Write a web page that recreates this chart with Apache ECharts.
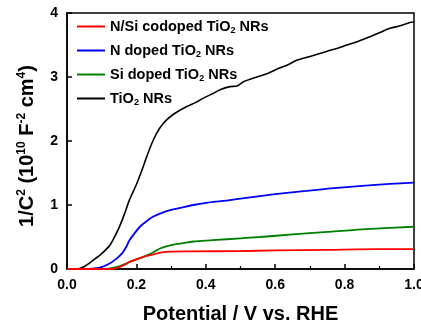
<!DOCTYPE html>
<html>
<head>
<meta charset="utf-8">
<script src="https://cdn.jsdelivr.net/npm/echarts@6/dist/echarts.min.js"></script>
<style>
  html, body { margin: 0; padding: 0; background: #fff; }
  #chart { width: 421px; height: 327px; }
</style>
</head>
<body>
<div id="chart"></div>
<script>
// series names and values (x: V vs. RHE, y: 1e10 F^-2 cm^4)
const seriesNames = ['N/Si codoped TiO2 NRs', 'N doped TiO2 NRs', 'Si doped TiO2 NRs', 'TiO2 NRs'];
const seriesColors = ['#ff0000', '#0000ff', '#008000', '#000000'];

const codopedData = [
  [0, 0], [0.12, 0], [0.14, 0.01], [0.16, 0.05], [0.18, 0.11], [0.20, 0.15], [0.22, 0.19],
  [0.249, 0.23], [0.27, 0.255], [0.297, 0.27], [0.35, 0.275], [0.5, 0.28], [0.6, 0.29],
  [0.75, 0.30], [0.9, 0.31], [1.0, 0.31]
];
const nDopedData = [
  [0, 0], [0.05, 0], [0.08, 0.01], [0.10, 0.03], [0.124, 0.09], [0.14, 0.15], [0.158, 0.24],
  [0.17, 0.34], [0.18, 0.45], [0.195, 0.56], [0.21, 0.66], [0.23, 0.75], [0.249, 0.82],
  [0.27, 0.87], [0.297, 0.92], [0.33, 0.96], [0.364, 1.0], [0.41, 1.04], [0.46, 1.07],
  [0.5, 1.10], [0.556, 1.14], [0.62, 1.18], [0.69, 1.22], [0.76, 1.26], [0.85, 1.30],
  [0.93, 1.33], [1.0, 1.35]
];
const siDopedData = [
  [0, 0], [0.1, 0], [0.124, 0.01], [0.15, 0.04], [0.172, 0.09], [0.195, 0.14], [0.22, 0.19],
  [0.245, 0.25], [0.268, 0.32], [0.297, 0.37], [0.33, 0.40], [0.364, 0.43], [0.42, 0.45],
  [0.5, 0.48], [0.556, 0.50], [0.65, 0.54], [0.75, 0.58], [0.85, 0.62], [1.0, 0.66]
];
const tio2Data = [
  [0, 0], [0.03, 0], [0.05, 0.04], [0.076, 0.14], [0.10, 0.24], [0.124, 0.375], [0.147, 0.61],
  [0.165, 0.85], [0.18, 1.08], [0.20, 1.32], [0.215, 1.53], [0.23, 1.76], [0.249, 2.02],
  [0.267, 2.2], [0.287, 2.33], [0.31, 2.43], [0.345, 2.54], [0.37, 2.6], [0.393, 2.67],
  [0.42, 2.74], [0.441, 2.80], [0.47, 2.85], [0.49, 2.86], [0.51, 2.93], [0.547, 3.0],
  [0.58, 3.06], [0.604, 3.12], [0.64, 3.2], [0.662, 3.26], [0.70, 3.32], [0.748, 3.40],
  [0.78, 3.45], [0.806, 3.50], [0.84, 3.56], [0.873, 3.63], [0.90, 3.69], [0.931, 3.76],
  [0.96, 3.80], [0.988, 3.85], [1.0, 3.86]
];
const allData = [codopedData, nDopedData, siDopedData, tio2Data];

const FONT = '"Liberation Sans", Arial, sans-serif';
const chart = echarts.init(document.getElementById('chart'));

const series = seriesNames.map((name, i) => ({
  name,
  type: 'line',
  data: allData[i],
  showSymbol: false,
  symbol: 'none',
  smooth: 0.3,
  lineStyle: { color: seriesColors[i], width: i === 3 ? 1.6 : 1.8 },
  itemStyle: { color: seriesColors[i] },
  z: i === 0 ? 5 : 3
}));

chart.setOption({
  animation: false,
  backgroundColor: '#fff',
  grid: {
    left: 67, right: 7, top: 13, bottom: 58,
    outerBoundsMode: 'none',
    show: true, borderColor: '#000', borderWidth: 1.5, backgroundColor: 'transparent'
  },
  legend: {
    orient: 'vertical',
    left: 72, top: 13,
    icon: 'rect',
    itemWidth: 28, itemHeight: 2,
    itemGap: 7,
    data: seriesNames,
    formatter: name => name.replace('TiO2', 'TiO{sub|2}'),
    textStyle: {
      fontFamily: FONT, fontSize: 14.5, fontWeight: 'bold', color: '#000', lineHeight: 17,
      rich: {
        sub: { fontFamily: FONT, fontSize: 9, fontWeight: 'bold', color: '#000', verticalAlign: 'bottom', lineHeight: 17 }
      }
    }
  },
  xAxis: {
    type: 'value',
    min: 0, max: 1, interval: 0.2,
    name: 'Potential / V vs. RHE',
    nameLocation: 'middle', nameGap: 35,
    nameTextStyle: { fontFamily: FONT, fontSize: 20, fontWeight: 'bold', color: '#000' },
    axisLine: { lineStyle: { color: '#000', width: 1.5 } },
    axisTick: { inside: true, length: 5, lineStyle: { color: '#000', width: 1.5 } },
    minorTick: { show: true, splitNumber: 2, length: 3, lineStyle: { color: '#000', width: 1.2 } },
    axisLabel: {
      fontFamily: FONT, fontSize: 14, fontWeight: 'bold', color: '#000', margin: 9,
      formatter: v => v.toFixed(1)
    },
    splitLine: { show: false }
  },
  yAxis: {
    type: 'value',
    min: 0, max: 4, interval: 1,
    name: '1/C{sup|2} (10{sup|10} F{sup|-2} cm{sup|4})',
    nameLocation: 'middle', nameGap: 26, nameRotate: 90,
    nameTextStyle: {
      fontFamily: FONT, fontSize: 20, fontWeight: 'bold', color: '#000', lineHeight: 24,
      padding: [0, 10, 0, 0],
      rich: {
        sup: { fontFamily: FONT, fontSize: 12, fontWeight: 'bold', color: '#000', verticalAlign: 'top', lineHeight: 14 }
      }
    },
    axisLine: { lineStyle: { color: '#000', width: 1.5 } },
    axisTick: { inside: true, length: 5, lineStyle: { color: '#000', width: 1.5 } },
    axisLabel: { fontFamily: FONT, fontSize: 14, fontWeight: 'bold', color: '#000', margin: 9 },
    splitLine: { show: false }
  },
  series
});
</script>
</body>
</html>
